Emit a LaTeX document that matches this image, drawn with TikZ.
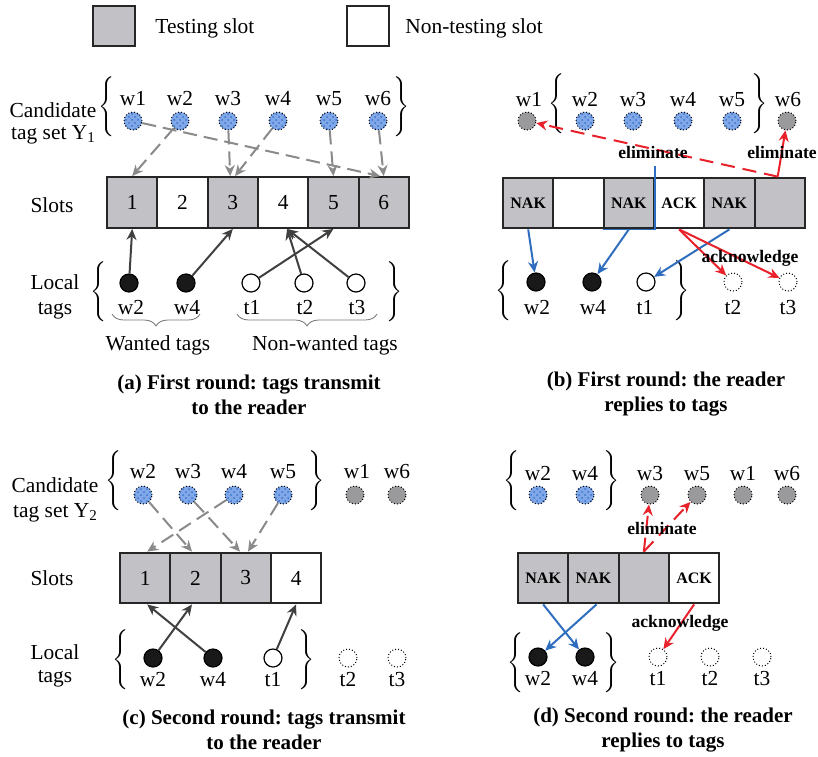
\documentclass[tikz,border=0pt]{standalone}
\usepackage{fontspec}
\setmainfont{Liberation Serif}
\usetikzlibrary{arrows.meta,decorations.pathreplacing,patterns}
\frenchspacing

\definecolor{slotgrey}{HTML}{C2C2C6}
\definecolor{tagblue}{HTML}{80A8E8}
\definecolor{tagdot}{HTML}{3D74CC}
\definecolor{gonegrey}{HTML}{9A9A9C}
\definecolor{linkgrey}{HTML}{8A8A8A}
\definecolor{txdark}{HTML}{404040}
\definecolor{nakblue}{HTML}{2F6EBE}
\definecolor{ackred}{HTML}{E8212B}

% tall set braces
\newcommand\setopen{$\left\{\vrule height 13.5pt depth 13.5pt width 0pt\right.$}
\newcommand\setclose{$\left.\vrule height 13.5pt depth 13.5pt width 0pt\right\}$}
\newcommand\subidx[1]{\raisebox{-0.35ex}{\fontsize{7.5}{8}\selectfont #1}}

\begin{document}
\begin{tikzpicture}[x=0.5pt,y=-0.5pt,
  txt/.style={font=\fontsize{10.7}{12}\selectfont, inner sep=0pt, text height=7pt, text depth=0pt},
  captext/.style={font=\fontsize{10.5}{12.5}\selectfont\bfseries, inner sep=0pt, align=center},
  note/.style={font=\fontsize{8.8}{10}\selectfont\bfseries, inner sep=0pt},
  brc/.style={inner sep=0pt},
  cell/.style={draw=black!85, line width=1pt, minimum width=25.15pt, minimum height=25.4pt, inner sep=0pt, font=\fontsize{10.7}{12}\selectfont},
  tcell/.style={cell, fill=slotgrey},
  ncell/.style={cell, fill=white},
  reply/.style={font=\fontsize{8}{9}\selectfont\bfseries},
  tag/.style={circle, minimum size=9pt, inner sep=0pt},
  cand/.style={tag, draw=black, densely dotted, line width=0.5pt, preaction={fill=tagblue}, pattern=crosshatch dots, pattern color=tagdot},
  gone/.style={tag, draw=black, densely dotted, line width=0.5pt, fill=gonegrey},
  want/.style={tag, draw=black, line width=0.6pt, fill=black!90},
  other/.style={tag, draw=black, line width=0.6pt, fill=white},
  absent/.style={tag, draw=black, densely dotted, line width=0.5pt, fill=white},
  assign/.style={draw=linkgrey, line width=1pt, dash pattern=on 7pt off 3.5pt, -{Stealth[length=5.5pt,width=5pt]}},
  transmit/.style={draw=txdark, line width=1pt, -{Stealth[length=5.5pt,width=5pt]}},
  nak/.style={draw=nakblue, line width=1pt, -{Stealth[length=5.5pt,width=5pt]}},
  ack/.style={draw=ackred, line width=1pt, -{Stealth[length=5.5pt,width=5pt]}},
  elim/.style={ack, dash pattern=on 7pt off 4pt},
  group/.style={decorate, decoration={brace, mirror, amplitude=6pt}, draw=black!55, line width=0.4pt},
]
\useasboundingbox (0,0) rectangle (818,756);

% ---------- legend ----------
\node[draw=black!85, line width=1pt, fill=slotgrey, minimum width=21pt, minimum height=20pt, inner sep=0pt] (key-t) at (114,26) {};
\node[txt, anchor=west] (key-tt) at (155,26) {Testing slot};
\node[draw=black!85, line width=1pt, fill=white, minimum width=21pt, minimum height=20pt, inner sep=0pt] (key-n) at (367.5,26) {};
\node[txt, anchor=west] (key-nt) at (405,26) {Non-testing slot};

% ---------- (a) first round, tags transmit ----------
\node[txt] (a-c1) at (53,110) {Candidate};
\node[txt] (a-c2) at (53,132) {tag set Y\subidx{1}};
\node[txt] (a-sl) at (52,205) {Slots};
\node[txt] (a-l1) at (55,282) {Local};
\node[txt] (a-l2) at (55,307) {tags};

\node[brc] (a-bo) at (108,108) {\setopen};
\node[brc] (a-bc) at (400,108) {\setclose};
\foreach \n/\x in {1/133,2/180,3/228,4/278,5/329,6/378}{
  \node[cand] (a-w\n) at (\x,121) {};
  \node[txt] (a-w\n t) at (\x,98) {w\n};
}

\node[tcell] (a-s1) at (132.2,202.5) {1};
\node[ncell] (a-s2) at (182.5,202.5) {2};
\node[tcell] (a-s3) at (232.8,202.5) {3};
\node[ncell] (a-s4) at (283.1,202.5) {4};
\node[tcell] (a-s5) at (333.4,202.5) {5};
\node[tcell] (a-s6) at (383.7,202.5) {6};

\draw[assign] (a-w1) -- ([xshift=-1.8pt]a-s6.north);
\draw[assign] (a-w2) -- (a-s1.north);
\draw[assign] (a-w3) -- ([xshift=-1.3pt]a-s3.north);
\draw[assign] (a-w4) -- ([xshift=1.1pt]a-s3.north);
\draw[assign] (a-w5) -- (a-s5.north);
\draw[assign] (a-w6) -- (a-s6.north);

\node[brc] (a-lo) at (100,293) {\setopen};
\node[brc] (a-lc) at (393,293) {\setclose};
\node[want]  (a-lw2) at (129,283) {};
\node[want]  (a-lw4) at (186,283) {};
\node[other] (a-lt1) at (251,283) {};
\node[other] (a-lt2) at (304,283) {};
\node[other] (a-lt3) at (356,283) {};
\node[txt] (a-lw2t) at (131,307) {w2};
\node[txt] (a-lw4t) at (187,307) {w4};
\node[txt] (a-lt1t) at (252,307) {t1};
\node[txt] (a-lt2t) at (305,307) {t2};
\node[txt] (a-lt3t) at (357,307) {t3};

\draw[transmit] (a-lw2) -- (a-s1.south);
\draw[transmit] (a-lw4) -- (a-s3.south);
\draw[transmit] (a-lt1) -- (a-s5.south);
\draw[transmit] (a-lt2) -- ([xshift=2pt]a-s4.south);
\draw[transmit] (a-lt3) -- ([xshift=2pt]a-s4.south);

\draw[group] (112,314) -- (200,314);
\draw[group] (237,314) -- (377,314);
\node[txt] (a-gw) at (158,343) {Wanted tags};
\node[txt] (a-gn) at (325,343) {Non-wanted tags};

\node[captext] (a-cap) at (249,394.5) {(a) First round: tags transmit\\to the reader};

% ---------- (b) first round, reader replies ----------
\node[brc] (b-bo) at (558,105) {\setopen};
\node[brc] (b-bc) at (758,105) {\setclose};
\node[gone] (b-w1) at (527,121) {};
\node[txt] (b-w1t) at (529,99) {w1};
\foreach \n/\x in {2/585,3/633,4/683,5/732}{
  \node[cand] (b-w\n) at (\x,121) {};
  \node[txt] (b-w\n t) at (\x,99) {w\n};
}
\node[gone] (b-w6) at (787,121) {};
\node[txt] (b-w6t) at (788,99) {w6};

\node[tcell, reply] (b-s1) at (528.2,203) {NAK};
\node[ncell, reply] (b-s2) at (578.5,203) {};
\node[tcell, reply] (b-s3) at (628.8,203) {NAK};
\node[ncell, reply] (b-s4) at (679.1,203) {ACK};
\node[tcell, reply] (b-s5) at (729.4,203) {NAK};
\node[tcell, reply] (b-s6) at (779.7,203) {};

\draw[nakblue, line width=0.6pt] (b-s3.south west) -- (b-s3.south east) -- ++(0,-63);

\coordinate (b-e) at ([xshift=-1pt]b-s6.north);
\draw[elim] (b-e) -- (b-w1);
\draw[ack] (b-e) -- (b-w6);
\node[note] (b-n1) at (653,152) {eliminate};
\node[note] (b-n2) at (782,152) {eliminate};

\node[brc] (b-lo) at (505,292) {\setopen};
\node[brc] (b-lc) at (680,292) {\setclose};
\node[want]   (b-lw2) at (536,282) {};
\node[want]   (b-lw4) at (592,282) {};
\node[other]  (b-lt1) at (646,282) {};
\node[absent] (b-lt2) at (733,282) {};
\node[absent] (b-lt3) at (788,282) {};
\node[txt] (b-lw2t) at (537,307) {w2};
\node[txt] (b-lw4t) at (593,307) {w4};
\node[txt] (b-lt1t) at (645,307) {t1};
\node[txt] (b-lt2t) at (733,307) {t2};
\node[txt] (b-lt3t) at (788,307) {t3};

\draw[nak] (b-s1.south) -- (b-lw2);
\draw[nak] (b-s3.south) -- (b-lw4);
\draw[nak] (b-s5.south) -- (b-lt1);
\draw[ack] (b-s4.south) -- (b-lt2);
\draw[ack] (b-s4.south) -- (b-lt3);
\node[note] (b-n3) at (750,258) {acknowledge};

\node[captext] (b-cap) at (666,394.5) {(b) First round: the reader\\replies to tags};

% ---------- (c) second round, tags transmit ----------
\node[txt] (c-c1) at (55,485) {Candidate};
\node[txt] (c-c2) at (55,510) {tag set Y\subidx{2}};
\node[txt] (c-sl) at (52,578) {Slots};
\node[txt] (c-l1) at (55,652) {Local};
\node[txt] (c-l2) at (55,675) {tags};

\node[brc] (c-bo) at (115,482) {\setopen};
\node[brc] (c-bc) at (315,482) {\setclose};
\foreach \n/\x in {2/143,3/188,4/234,5/283}{
  \node[cand] (c-w\n) at (\x,495) {};
  \node[txt] (c-w\n t) at (\x,471) {w\n};
}
\node[gone] (c-w1) at (355,495) {};
\node[txt] (c-w1t) at (357,471) {w1};
\node[gone] (c-w6) at (397,495) {};
\node[txt] (c-w6t) at (397,471) {w6};

\node[tcell] (c-s1) at (145.2,578) {1};
\node[tcell] (c-s2) at (195.5,578) {2};
\node[tcell] (c-s3) at (245.8,578) {3};
\node[ncell] (c-s4) at (296.1,578) {4};

\draw[assign] (c-w2) -- ([xshift=-1.75pt]c-s2.north);
\draw[assign] (c-w3) -- ([xshift=-2.9pt]c-s3.north);
\draw[assign] (c-w4) -- ([xshift=1pt]c-s1.north);
\draw[assign] (c-w5) -- ([xshift=1.1pt]c-s3.north);

\node[brc] (c-lo) at (122,661) {\setopen};
\node[brc] (c-lc) at (305,661) {\setclose};
\node[want]   (c-lw2) at (153,658) {};
\node[want]   (c-lw4) at (213,658) {};
\node[other]  (c-lt1) at (273,658) {};
\node[absent] (c-lt2) at (348,658) {};
\node[absent] (c-lt3) at (397,658) {};
\node[txt] (c-lw2t) at (153,679) {w2};
\node[txt] (c-lw4t) at (213,679) {w4};
\node[txt] (c-lt1t) at (273,679) {t1};
\node[txt] (c-lt2t) at (348,679) {t2};
\node[txt] (c-lt3t) at (397,679) {t3};

\draw[transmit] (c-lw2) -- ([xshift=-1.75pt]c-s2.south);
\draw[transmit] (c-lw4) -- ([xshift=1pt]c-s1.south);
\draw[transmit] (c-lt1) -- (c-s4.south);

\node[captext] (c-cap) at (264,730) {(c) Second round: tags transmit\\to the reader};

% ---------- (d) second round, reader replies ----------
\node[brc] (d-bo) at (513,482) {\setopen};
\node[brc] (d-bc) at (610,482) {\setclose};
\foreach \n/\x in {2/538,4/585}{
  \node[cand] (d-w\n) at (\x,495) {};
  \node[txt] (d-w\n t) at (\x,473) {w\n};
}
\foreach \n/\x in {3/650,5/697,1/743,6/787}{
  \node[gone] (d-w\n) at (\x,495) {};
  \node[txt] (d-w\n t) at (\x,473) {w\n};
}

\node[tcell, reply] (d-s1) at (543.2,578) {NAK};
\node[tcell, reply] (d-s2) at (593.5,578) {NAK};
\node[tcell, reply] (d-s3) at (643.8,578) {};
\node[ncell, reply] (d-s4) at (694.1,578) {ACK};

\coordinate (d-e) at (d-s3.north);
\draw[elim] (d-e) -- (d-w3);
\draw[elim] (d-e) -- (d-w5);
\node[note] (d-n1) at (662,528) {eliminate};

\node[brc] (d-lo) at (517,664) {\setopen};
\node[brc] (d-lc) at (610,664) {\setclose};
\node[want]   (d-lw2) at (538,657) {};
\node[want]   (d-lw4) at (585,657) {};
\node[absent] (d-lt1) at (658,657) {};
\node[absent] (d-lt2) at (710,657) {};
\node[absent] (d-lt3) at (762,657) {};
\node[txt] (d-lw2t) at (538,678) {w2};
\node[txt] (d-lw4t) at (585,678) {w4};
\node[txt] (d-lt1t) at (658,678) {t1};
\node[txt] (d-lt2t) at (710,678) {t2};
\node[txt] (d-lt3t) at (762,678) {t3};

\draw[nak] (d-s1.south) -- (d-lw4);
\draw[nak] ([xshift=1.5pt]d-s2.south) -- (d-lw2);
\draw[ack] (d-s4.south) -- (d-lt1);
\node[note] (d-n2) at (680,623) {acknowledge};

\node[captext] (d-cap) at (663,730) {(d) Second round: the reader\\replies to tags};
\end{tikzpicture}
\end{document}
